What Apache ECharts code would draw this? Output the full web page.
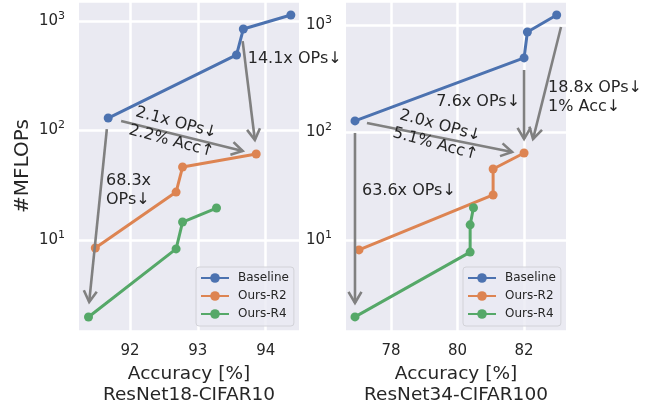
<!DOCTYPE html>
<html>
<head>
<meta charset="utf-8">
<script src="https://cdn.jsdelivr.net/npm/echarts@6/dist/echarts.min.js"></script>
<style>html,body{margin:0;padding:0;background:#fff;}#c{width:652px;height:406px;}</style>
</head>
<body>
<div id="c"></div>
<script>
// ---- Data: ResNet18-CIFAR10 (left) ----
var r18BaseX = [91.68, 93.57, 93.67, 94.37];
var r18BaseY = [130, 490, 845, 1135];
var r18R2X = [91.49, 92.68, 92.775, 93.86];
var r18R2Y = [8.45, 27.4, 46.4, 61];
var r18R4X = [91.39, 92.68, 92.775, 93.275];
var r18R4Y = [1.98, 8.3, 14.6, 19.6];
// ---- Data: ResNet34-CIFAR100 (right) ----
var r34BaseX = [76.92, 82.0, 82.1, 82.98];
var r34BaseY = [128, 494, 861, 1239];
var r34R2X = [77.04, 81.07, 81.07, 82.0];
var r34R2Y = [8.07, 26.2, 45.7, 64.4];
var r34R4X = [76.92, 80.38, 80.38, 80.48];
var r34R4Y = [1.92, 7.7, 13.8, 19.9];

var seriesNames = ['Baseline', 'Ours-R2', 'Ours-R4'];
var xTicks18 = [92, 93, 94];
var xTicks34 = [78, 80, 82];
var yTicks = [10, 100, 1000];
var xTitle18 = 'Accuracy [%]\nResNet18-CIFAR10';
var xTitle34 = 'Accuracy [%]\nResNet34-CIFAR100';
var yTitle = '#MFLOPs';

// arrows: [x0, y0, x1, y1] in data units
var arrows18 = [[93.66, 656, 93.84, 81.9], [91.87, 122, 93.66, 65], [91.66, 103, 91.40, 2.72]];
var arrows34 = [[82.0, 381, 82.0, 87], [83.11, 958, 82.27, 87], [77.28, 122.6, 81.64, 65.9], [76.92, 98.9, 76.92, 2.59]];
// annotation texts and anchors (data units)
var notes18Text = ['14.1x OPs↓', '2.1x OPs↓\n2.2% Acc↑', '68.3x\nOPs↓'];
var notes18X = [93.735, 92.647, 91.647];
var notes18Y = [450, 96.9, 28.3];
var notes34Text = ['7.6x OPs↓', '18.8x OPs↓\n1% Acc↓', '2.0x OPs↓\n5.1% Acc↑', '63.6x OPs↓'];
var notes34X = [81.88, 82.72, 79.41, 77.13];
var notes34Y = [192, 212, 94.8, 28.6];

// ---- styling ----
var COLORS = ['#4c72b0', '#dd8452', '#55a868'];
var TXT = '#262626';
var FONT = '"DejaVu Sans", sans-serif';
var notes18Style = [{align: 'left', rot: 0}, {align: 'center', rot: -15}, {align: 'left', rot: 0}];
var notes34Style = [{align: 'right', rot: 0}, {align: 'left', rot: 0}, {align: 'center', rot: -15}, {align: 'left', rot: 0}];

function zip(xs, ys) { return xs.map(function (x, i) { return [x, ys[i]]; }); }
function isTick(list, v) { return list.some(function (t) { return Math.abs(t - v) < 1e-6 * Math.max(1, Math.abs(t)); }); }

function xAxisCfg(idx, min, max, ticks, title) {
  return {
    type: 'value', gridIndex: idx, min: min, max: max,
    axisLine: {show: false}, axisTick: {show: false, customValues: ticks},
    splitLine: {show: true, lineStyle: {color: '#ffffff', width: 2.5}},
    axisLabel: {
      customValues: ticks,
      color: TXT, fontSize: 15, fontFamily: FONT, margin: 13,
      formatter: function (v) { return isTick(ticks, v) ? String(v) : ''; }
    },
    name: title, nameLocation: 'middle', nameGap: 31,
    nameTextStyle: {color: TXT, fontSize: 18.5, fontFamily: FONT, lineHeight: 21}
  };
}
function yAxisCfg(idx, min, max, withName) {
  var c = {
    type: 'log', logBase: 10, gridIndex: idx, min: min, max: max,
    axisLine: {show: false}, axisTick: {show: false}, minorTick: {show: false},
    splitLine: {show: true, lineStyle: {color: '#ffffff', width: 2.5}},
    axisLabel: {
      margin: 14,
      formatter: function (v) {
        if (!isTick(yTicks, v)) return '';
        return '{b|10}{s|' + Math.round(Math.log10(v)) + '}';
      },
      rich: {
        b: {color: TXT, fontSize: 15, fontFamily: FONT},
        s: {color: TXT, fontSize: 11, fontFamily: FONT, padding: [0, 0, 10, 0]}
      }
    }
  };
  if (withName) {
    c.name = yTitle; c.nameLocation = 'middle'; c.nameGap = 46; c.nameRotate = 90;
    c.nameTextStyle = {color: TXT, fontSize: 20, fontFamily: FONT};
  }
  return c;
}

function lineSeries(name, idx, data, color) {
  return {
    type: 'line', name: name, xAxisIndex: idx, yAxisIndex: idx, data: data,
    symbol: 'circle', symbolSize: 9, showSymbol: true, animation: false, z: 3,
    itemStyle: {color: color}, lineStyle: {color: color, width: 3}
  };
}

function arrowSeries(idx, data) {
  return {
    type: 'custom', xAxisIndex: idx, yAxisIndex: idx, data: data, animation: false, z: 4, clip: false,
    encode: {x: [0, 2], y: [1, 3]}, silent: true,
    renderItem: function (params, api) {
      var p0 = api.coord([api.value(0), api.value(1)]);
      var p1 = api.coord([api.value(2), api.value(3)]);
      var dx = p1[0] - p0[0], dy = p1[1] - p0[1];
      var L = Math.sqrt(dx * dx + dy * dy);
      var ux = dx / L, uy = dy / L;
      var hl = 11, hw = 6.5;
      var bx = p1[0] - ux * hl, by = p1[1] - uy * hl;
      var h1 = [bx - uy * hw, by + ux * hw], h2 = [bx + uy * hw, by - ux * hw];
      var st = {stroke: '#808080', lineWidth: 2.6, fill: 'none'};
      return {type: 'group', children: [
        {type: 'line', shape: {x1: p0[0], y1: p0[1], x2: p1[0], y2: p1[1]}, style: st},
        {type: 'polyline', shape: {points: [h1, p1, h2]}, style: st}
      ]};
    }
  };
}

function noteSeries(idx, xs, ys, texts, styles) {
  return {
    type: 'custom', xAxisIndex: idx, yAxisIndex: idx, data: zip(xs, ys), animation: false, z: 5, clip: false,
    encode: {x: 0, y: 1}, silent: true,
    renderItem: function (params, api) {
      var p = api.coord([api.value(0), api.value(1)]);
      var s = styles[params.dataIndex];
      return {
        type: 'text', x: p[0], y: p[1], rotation: s.rot * Math.PI / 180,
        style: {
          text: texts[params.dataIndex], fill: TXT, fontSize: 16, fontFamily: FONT,
          align: s.align, verticalAlign: 'middle', lineHeight: 19
        }
      };
    }
  };
}

function legendCfg(left) {
  return {
    data: seriesNames, orient: 'vertical', left: left, top: 267, selectedMode: false,
    itemWidth: 28, itemHeight: 12, itemGap: 6, padding: [5, 5, 6, 4],
    backgroundColor: 'rgba(234,234,242,0.8)', borderColor: '#d2d2d8', borderWidth: 1, borderRadius: 3,
    textStyle: {color: TXT, fontSize: 12, fontFamily: FONT, padding: [0, 0, 0, 4]}
  };
}

var chart = echarts.init(document.getElementById('c'), null, {renderer: 'canvas'});
chart.setOption({
  backgroundColor: '#ffffff',
  animation: false,
  grid: [
    {left: 79, top: 1, width: 220, height: 330, show: true, backgroundColor: '#eaeaf2', borderWidth: 0, containLabel: false, outerBoundsMode: 'none'},
    {left: 346, top: 1, width: 220, height: 330, show: true, backgroundColor: '#eaeaf2', borderWidth: 0, containLabel: false, outerBoundsMode: 'none'}
  ],
  xAxis: [xAxisCfg(0, 91.25, 94.49, xTicks18, xTitle18), xAxisCfg(1, 76.65, 83.26, xTicks34, xTitle34)],
  yAxis: [yAxisCfg(0, 1.476, 1524, true), yAxisCfg(1, 1.42, 1672, false)],
  legend: [legendCfg(196), legendCfg(463)],
  series: [
    lineSeries(seriesNames[0], 0, zip(r18BaseX, r18BaseY), COLORS[0]),
    lineSeries(seriesNames[1], 0, zip(r18R2X, r18R2Y), COLORS[1]),
    lineSeries(seriesNames[2], 0, zip(r18R4X, r18R4Y), COLORS[2]),
    lineSeries(seriesNames[0], 1, zip(r34BaseX, r34BaseY), COLORS[0]),
    lineSeries(seriesNames[1], 1, zip(r34R2X, r34R2Y), COLORS[1]),
    lineSeries(seriesNames[2], 1, zip(r34R4X, r34R4Y), COLORS[2]),
    arrowSeries(0, arrows18),
    arrowSeries(1, arrows34),
    noteSeries(0, notes18X, notes18Y, notes18Text, notes18Style),
    noteSeries(1, notes34X, notes34Y, notes34Text, notes34Style)
  ]
});
</script>
</body>
</html>
